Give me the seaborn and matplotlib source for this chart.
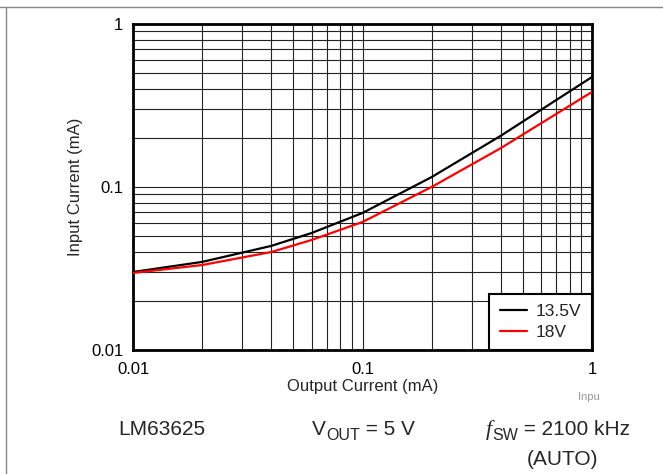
import numpy as np
import pandas as pd
import matplotlib
matplotlib.use('Agg')
import matplotlib.pyplot as plt
import matplotlib.ticker as mticker
import seaborn as sns

# ── Data ────────────────────────────────────────────────────
OUT_CURRENT = [0.01, 0.02, 0.04, 0.06, 0.1, 0.2, 0.4, 1.0]
IN_13V5     = [0.0301, 0.0347, 0.0435, 0.0522, 0.0693, 0.115, 0.206, 0.473]
IN_18V      = [0.0297, 0.0332, 0.0399, 0.0473, 0.061, 0.100, 0.173, 0.383]
SERIES      = ['13.5V', '18V']
COLORS      = ['black', '#ff0000']
TICKS       = [0.01, 0.1, 1]
TICK_LABELS = ['0.01', '0.1', '1']

df = pd.DataFrame({
    'Output Current (mA)': OUT_CURRENT * 2,
    'Input Current (mA)': IN_13V5 + IN_18V,
    'Vin': [SERIES[0]] * len(OUT_CURRENT) + [SERIES[1]] * len(OUT_CURRENT),
})

sns.set_style('white')
plt.rcParams['font.family'] = ['Liberation Sans', 'DejaVu Sans']

W, H = 663, 474
fig = plt.figure(figsize=(W / 100, H / 100), dpi=100)
ax = fig.add_axes([133 / W, 1 - 350 / H, (592 - 133) / W, (350 - 24) / H])

sns.lineplot(data=df, x='Output Current (mA)', y='Input Current (mA)',
             hue='Vin', palette=COLORS, linewidth=1.6, ax=ax, zorder=3)

ax.set_xscale('log')
ax.set_yscale('log')
ax.set_xlim(0.01, 1)
ax.set_ylim(0.01, 1)
ax.set_xticks(TICKS)
ax.set_xticklabels(TICK_LABELS)
ax.set_yticks(TICKS)
ax.set_yticklabels(TICK_LABELS)
ax.xaxis.set_minor_locator(mticker.LogLocator(base=10, subs=np.arange(2, 10)))
ax.yaxis.set_minor_locator(mticker.LogLocator(base=10, subs=np.arange(2, 10)))
ax.xaxis.set_minor_formatter(mticker.NullFormatter())
ax.yaxis.set_minor_formatter(mticker.NullFormatter())
ax.grid(True, which='both', color='#222222', linewidth=0.8)
ax.tick_params(which='both', length=0, labelsize=12, colors='black')
ax.tick_params(axis='x', pad=9)
ax.tick_params(axis='y', pad=7)
for s in ax.spines.values():
    s.set_color('black')
    s.set_linewidth(2)
ax.set_xlabel('Output Current (mA)', fontsize=12, labelpad=1)
ax.set_ylabel('Input Current (mA)', fontsize=12, labelpad=6)

leg = ax.legend(loc='lower right', fontsize=12.5, frameon=True, fancybox=False,
                borderaxespad=0, handlelength=1.6, handletextpad=0.5,
                borderpad=0.6, labelspacing=0.3, title=None)
leg.get_frame().set_edgecolor('black')
leg.get_frame().set_linewidth(1.5)
leg.get_frame().set_alpha(1)

# page frame lines
fig.add_artist(plt.Line2D([0, 1], [1 - 7 / H, 1 - 7 / H],
                          transform=fig.transFigure, color='#888888', lw=1))
fig.add_artist(plt.Line2D([6 / W, 6 / W], [0, 1 - 7 / H],
                          transform=fig.transFigure, color='#888888', lw=1))

fig.text(578 / W, 1 - 397 / H, 'Inpu', fontsize=8, color='#999999',
         ha='left', va='center')

# bottom annotation, drawn as runs so the subscripts keep their size
renderer = fig.canvas.get_renderer()


def draw_runs(x_px, base_px, runs):
    x = x_px / W
    for txt, size, dy, kw in runs:
        t = fig.text(x, 1 - (base_px + dy) / H, txt, fontsize=size,
                     va='baseline', ha='left', **kw)
        bb = t.get_window_extent(renderer)
        x = bb.x1 / fig.bbox.width


draw_runs(118, 435, [('LM63625', 15, 0, {})])
draw_runs(312, 435, [('V', 15, 0, {}),
                     ('OUT', 11.5, 4.5, {}),
                     (' = 5 V', 15, 0, {})])
draw_runs(486, 435, [('f', 16, 0, {'family': 'Liberation Serif', 'style': 'italic'}),
                     ('SW', 11.5, 4.5, {}),
                     (' = 2100 kHz', 15, 0, {})])
draw_runs(527, 465, [('(AUTO)', 15, 0, {})])

fig.savefig('out.png', dpi=100)
